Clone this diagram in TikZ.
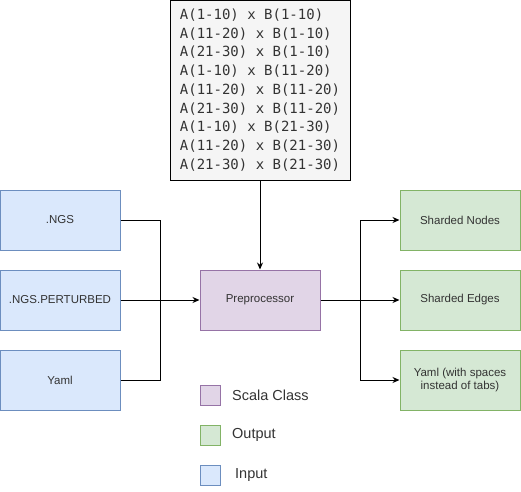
\documentclass[tikz,border=0pt]{standalone}
\usepackage{fontspec}
\setmainfont{Liberation Sans}
\newfontfamily\codefont{DejaVu Sans Mono}
\usetikzlibrary{arrows.meta}

\definecolor{inFill}{HTML}{DAE8FC}
\definecolor{inLine}{HTML}{6C8EBF}
\definecolor{outFill}{HTML}{D5E8D4}
\definecolor{outLine}{HTML}{82B366}
\definecolor{clsFill}{HTML}{E1D5E7}
\definecolor{clsLine}{HTML}{9673A6}
\definecolor{codeFill}{HTML}{F5F5F5}
\definecolor{txt}{HTML}{333333}

\tikzset{
  block/.style={draw, line width=1pt, minimum width=120pt, minimum height=60pt,
    inner sep=2pt, align=center, text=txt, font=\fontsize{11.5}{13.5}\selectfont},
  inbox/.style={block, fill=inFill, draw=inLine},
  outbox/.style={block, fill=outFill, draw=outLine},
  clsbox/.style={block, fill=clsFill, draw=clsLine},
  codebox/.style={draw=black, line width=1pt, fill=codeFill, minimum width=180pt,
    minimum height=180pt, align=left, text=txt, inner sep=0pt,
    font=\codefont\fontsize{14}{18.75}\selectfont},
  keybox/.style={draw, line width=1pt, minimum size=20pt, inner sep=0pt},
  keytext/.style={anchor=west, inner sep=0pt, text=txt, font=\fontsize{14.5}{17}\selectfont},
  link/.style={line width=1pt, draw=black},
  arr/.style={link, -{Stealth[length=7pt, width=6pt]}},
}

\begin{document}
\begin{tikzpicture}[x=1pt, y=-1pt]

  %% ════ 左侧输入 ════
  \node[inbox] (ngs)  at (60,220) {.NGS};
  \node[inbox] (pert) at (60,300) {.NGS.PERTURBED};
  \node[inbox] (yml)  at (60,380) {Yaml};

  %% ════ 中间：分块表 + 预处理 ════
  \node[codebox] (blocks) at (260,90) {%
    A(1-10) x B(1-10)\\
    A(11-20) x B(1-10)\\
    A(21-30) x B(1-10)\\
    A(1-10) x B(11-20)\\
    A(11-20) x B(11-20)\\
    A(21-30) x B(11-20)\\
    A(1-10) x B(21-30)\\
    A(11-20) x B(21-30)\\
    A(21-30) x B(21-30)};
  \node[clsbox] (pre) at (260,300) {Preprocessor};

  %% ════ 右侧输出 ════
  \node[outbox] (shnodes) at (460,220) {Sharded Nodes};
  \node[outbox] (shedges) at (460,300) {Sharded Edges};
  \node[outbox] (shyaml)  at (460,380) {Yaml (with spaces\\instead of tabs)};

  %% ════ 连线 ════
  \coordinate (join)  at (160,300);
  \coordinate (split) at (360,300);
  \draw[link] (ngs.east) -| (join);
  \draw[link] (yml.east) -| (join);
  \draw[arr]  (pert.east) -- (pre.west);
  \draw[arr]  (blocks.south) -- (pre.north);
  \draw[link] (pre.east) -- (split);
  \draw[arr]  (split) |- (shnodes.west);
  \draw[arr]  (split) -- (shedges.west);
  \draw[arr]  (split) |- (shyaml.west);

  %% ════ 图例 ════
  \node[keybox, fill=clsFill, draw=clsLine] (kcls) at (210,395) {};
  \node[keybox, fill=outFill, draw=outLine] (kout) at (210,435) {};
  \node[keybox, fill=inFill,  draw=inLine]  (kin)  at (210,475) {};
  \node[keytext] (lcls) at (232,395) {Scala Class};
  \node[keytext] (lout) at (232,435) {Output};
  \node[keytext] (lin)  at (235,475) {Input};

  % 钉死画布
  \pgfresetboundingbox
  \path[use as bounding box] (0,0) rectangle (521,491);
\end{tikzpicture}
\end{document}
